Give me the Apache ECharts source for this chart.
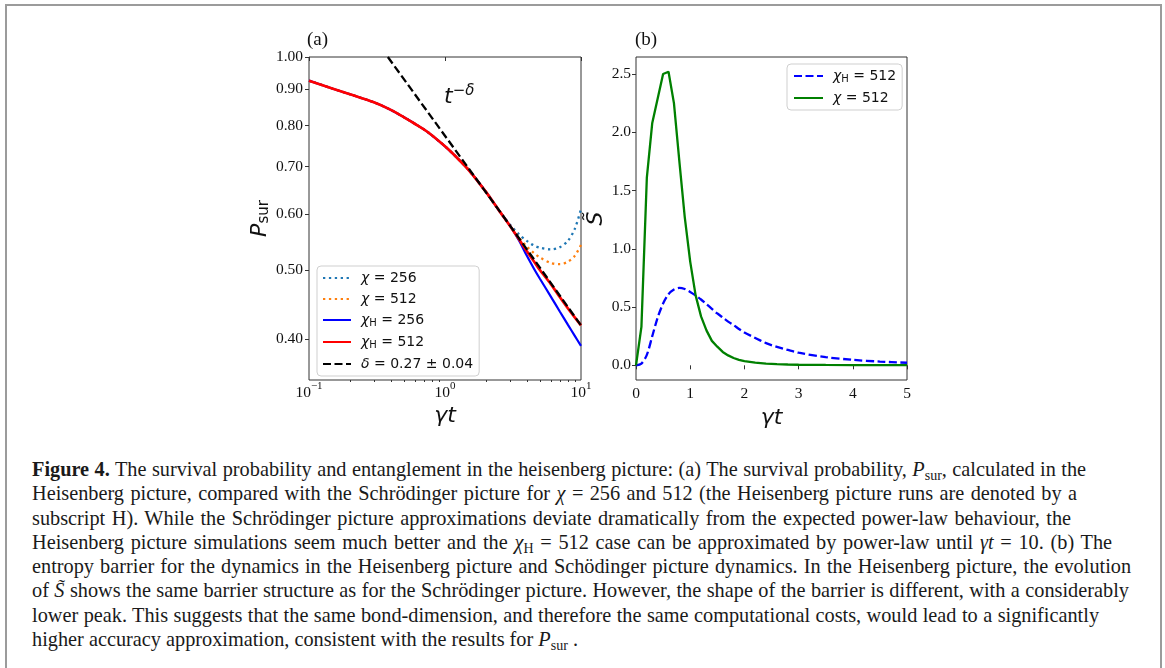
<!DOCTYPE html>
<html><head><meta charset="utf-8">
<script src="https://cdn.jsdelivr.net/npm/echarts@6.0.0/dist/echarts.min.js"></script>
<style>
html,body{margin:0;padding:0;background:#fff;}
body{width:1165px;height:668px;overflow:hidden;position:relative;}
#frame{position:absolute;left:5px;top:4px;width:1153px;height:690px;border:2px solid #9b9b9b;border-bottom:none;}
#chart{position:absolute;left:0;top:0;width:1165px;height:440px;}
#cap{position:absolute;left:32px;top:457px;font-family:'Liberation Serif','Times New Roman',serif;font-size:20.3px;line-height:24.3px;color:#1a1a1a;}
#cap .ln{white-space:nowrap;height:24.3px;}
#cap .ln span{white-space:nowrap;}
#cap sub{font-size:14px;vertical-align:baseline;position:relative;top:4px;line-height:0;}
</style></head><body>
<div id="frame"></div>
<div id="chart"></div>
<div id="cap">
<div class="ln"><span><b>Figure 4.</b> The survival probability and entanglement in the heisenberg picture: (a) The survival probability, <i>P</i><sub>sur</sub>, calculated in the</span></div>
<div class="ln"><span>Heisenberg picture, compared with the Schrödinger picture for <i>χ</i> = 256 and 512 (the Heisenberg picture runs are denoted by a</span></div>
<div class="ln"><span>subscript H). While the Schrödinger picture approximations deviate dramatically from the expected power-law behaviour, the</span></div>
<div class="ln"><span>Heisenberg picture simulations seem much better and the <i>χ</i><sub>H</sub> = 512 case can be approximated by power-law until <i>γt</i> = 10. (b) The</span></div>
<div class="ln"><span>entropy barrier for the dynamics in the Heisenberg picture and Schödinger picture dynamics. In the Heisenberg picture, the evolution</span></div>
<div class="ln"><span>of <i>S̃</i> shows the same barrier structure as for the Schrödinger picture. However, the shape of the barrier is different, with a considerably</span></div>
<div class="ln"><span>lower peak. This suggests that the same bond-dimension, and therefore the same computational costs, would lead to a significantly</span></div>
<div class="ln"><span>higher accuracy approximation, consistent with the results for <i>P</i><sub>sur</sub> .</span></div>
</div>
<script>
// ---------- data: panel (a) survival probability ----------
const xA      = [0.1, 0.15, 0.2, 0.3, 0.4, 0.5, 0.6, 0.75, 1.0, 1.25, 1.5, 2.0, 2.5, 3.0, 3.5, 4.0, 4.5, 5.0, 6.0, 7.0, 8.0, 9.0, 10.0];
const pChi256 = [0.926, 0.902, 0.886, 0.863, 0.842, 0.822, 0.805, 0.783, 0.748, 0.718, 0.692, 0.645, 0.607, 0.580, 0.562, 0.550, 0.542, 0.538, 0.535, 0.539, 0.550, 0.572, 0.610];
const pChi512 = [0.926, 0.902, 0.886, 0.863, 0.842, 0.822, 0.805, 0.783, 0.748, 0.718, 0.692, 0.645, 0.607, 0.578, 0.556, 0.540, 0.529, 0.521, 0.512, 0.510, 0.514, 0.524, 0.543];
const pH256   = [0.926, 0.902, 0.886, 0.863, 0.842, 0.822, 0.805, 0.783, 0.748, 0.718, 0.692, 0.645, 0.607, 0.578, 0.551, 0.524, 0.503, 0.486, 0.459, 0.437, 0.419, 0.404, 0.391];
const pH512   = [0.926, 0.902, 0.886, 0.863, 0.842, 0.822, 0.805, 0.783, 0.748, 0.718, 0.692, 0.645, 0.607, 0.578, 0.553, 0.532, 0.515, 0.500, 0.478, 0.458, 0.442, 0.429, 0.418];
const xDelta  = [0.38, 2.7, 10.0];
const pDelta  = [1.00, 0.595, 0.418];
const yTicksA = [0.4, 0.5, 0.6, 0.7, 0.8, 0.9, 1.0];
const xMinorA = [0.2, 0.3, 0.4, 0.5, 0.6, 0.7, 0.8, 0.9, 2, 3, 4, 5, 6, 7, 8, 9];
// ---------- data: panel (b) entropy ----------
const xS      = [0, 0.1, 0.2, 0.3, 0.4, 0.5, 0.6, 0.7, 0.8, 0.9, 1.0, 1.1, 1.2, 1.3, 1.4, 1.5, 1.6, 1.7, 1.8, 1.9, 2.0, 2.2, 2.4, 2.6, 2.8, 3.0, 3.5, 4.0, 4.5, 5.0];
const sH512   = [0, 0.015, 0.09, 0.25, 0.41, 0.53, 0.61, 0.65, 0.665, 0.655, 0.63, 0.60, 0.565, 0.525, 0.485, 0.445, 0.41, 0.375, 0.345, 0.312, 0.282, 0.235, 0.19, 0.158, 0.132, 0.108, 0.07, 0.047, 0.032, 0.022];
const sChi512 = [0, 0.33, 1.61, 2.08, 2.29, 2.50, 2.52, 2.25, 1.75, 1.27, 0.89, 0.60, 0.42, 0.30, 0.21, 0.16, 0.115, 0.085, 0.063, 0.047, 0.036, 0.023, 0.015, 0.010, 0.007, 0.005, 0.003, 0.002, 0.001, 0.001];
const yTicksB = [0, 0.5, 1.0, 1.5, 2.0, 2.5];
const xTicksB = [0, 1, 2, 3, 4, 5];

const zip = (xs, ys) => xs.map((x, i) => [x, ys[i]]);
const lg = Math.log10;
const SERIF = 'Liberation Serif';
const SANS = 'DejaVu Sans';
const INK = '#111';
const AX = '#333';

const legendNames = {
  c256: '{i|χ} = 256', c512: '{i|χ} = 512',
  h256: '{i|χ}{h|H} = 256', h512: '{i|χ}{h|H} = 512',
  delta: '{i|δ} = 0.27 ± 0.04',
  bH512: '{i|χ}{h|H} = 512', bChi512: '{i|χ} = 512'
};
const legRich = {
  i: {fontFamily: SANS, fontStyle: 'italic', fontSize: 14, color: INK},
  h: {fontFamily: SANS, fontSize: 10, color: INK, padding: [6, 0, 0, 0]}
};
const legendBase = {
  orient: 'vertical', itemHeight: 14, itemGap: 7, selectedMode: false,
  itemStyle: {opacity: 0, borderWidth: 0},
  backgroundColor: 'rgba(255,255,255,0.85)', borderColor: '#cfcfcf', borderWidth: 1, borderRadius: 4,
  textStyle: {fontFamily: SANS, fontSize: 14, color: INK, padding: [0, 0, 0, 5], rich: legRich},
  formatter: n => legendNames[n]
};
const tickLbl = {fontFamily: SERIF, fontSize: 15.5, color: INK};
const nameSt = {fontFamily: SANS, fontStyle: 'italic', fontSize: 22, color: INK};
const line = (name, xs, ys, color, width, type, xi, yi, z, smooth) => ({
  type: 'line', name, data: zip(xs, ys), xAxisIndex: xi, yAxisIndex: yi,
  symbol: 'none', showSymbol: false, smooth: smooth, z: z, animation: false,
  lineStyle: {color, width, type, cap: 'butt'}, itemStyle: {color}
});

const chart = echarts.init(document.getElementById('chart'));
chart.setOption({
  animation: false,
  title: [
    {text: '(a)', left: 307, top: 31, padding: 0, textStyle: {fontFamily: SERIF, fontSize: 19, fontWeight: 'normal', color: INK}},
    {text: '(b)', left: 635, top: 31, padding: 0, textStyle: {fontFamily: SERIF, fontSize: 19, fontWeight: 'normal', color: INK}}
  ],
  grid: [
    {left: 309, top: 57, width: 272, height: 323, show: true, borderColor: AX, borderWidth: 1, backgroundColor: 'transparent', containLabel: false, outerBoundsMode: 'none'},
    {left: 636, top: 57, width: 271, height: 323, show: true, borderColor: AX, borderWidth: 1, backgroundColor: 'transparent', containLabel: false, outerBoundsMode: 'none'}
  ],
  xAxis: [
    {gridIndex: 0, type: 'log', logBase: 10, min: 0.1, max: 10, position: 'bottom',
     name: 'γt', nameLocation: 'middle', nameGap: 21, nameTextStyle: nameSt,
     axisLine: {show: false}, splitLine: {show: false},
     axisTick: {show: true, length: 4, lineStyle: {color: AX}},
     axisLabel: {margin: 1, formatter: v => { const e = Math.round(lg(v)); return '{b|10}{s|' + (e < 0 ? '\u2212' + (-e) : String(e)) + '}'; },
       rich: {b: {fontFamily: SERIF, fontSize: 15.5, color: INK}, s: {fontFamily: SERIF, fontSize: 11, color: INK, padding: [0, 0, 12, 0]}}}},
    {gridIndex: 0, type: 'value', min: -1, max: 1, position: 'bottom',
     axisLine: {show: false}, splitLine: {show: false}, axisLabel: {show: false},
     axisTick: {show: true, length: 2, lineStyle: {color: AX}, customValues: xMinorA.map(lg)}},
    {gridIndex: 1, type: 'value', min: 0, max: 5, position: 'bottom',
     name: 'γt', nameLocation: 'middle', nameGap: 21, nameTextStyle: nameSt,
     axisLine: {show: false}, splitLine: {show: false},
     axisTick: {show: true, length: 4, lineStyle: {color: AX}, customValues: xTicksB},
     axisLabel: Object.assign({margin: 6, customValues: xTicksB, formatter: v => String(v)}, tickLbl)}
  ],
  yAxis: [
    {gridIndex: 0, type: 'log', logBase: 10, min: 0.35, max: 1.0,
     axisLine: {show: false}, axisTick: {show: false}, axisLabel: {show: false}, splitLine: {show: false}},
    {gridIndex: 0, type: 'value', position: 'left', min: lg(0.35), max: 0,
     name: '{p|P}{s|sur}', nameLocation: 'middle', nameGap: 33,
     nameTextStyle: {rich: {p: {fontFamily: SANS, fontStyle: 'italic', fontSize: 22, color: INK}, s: {fontFamily: SANS, fontSize: 15, color: INK, padding: [9, 0, 0, 0]}}},
     axisLine: {show: false}, splitLine: {show: false},
     axisTick: {show: true, length: 4, lineStyle: {color: AX}, customValues: yTicksA.map(lg)},
     axisLabel: Object.assign({margin: 6, customValues: yTicksA.map(lg), formatter: v => Math.pow(10, v).toFixed(2)}, tickLbl)},
    {gridIndex: 1, type: 'value', min: -0.126, max: 2.646,
     name: 'S\u0303', nameLocation: 'middle', nameGap: 20, nameTextStyle: nameSt,
     axisLine: {show: false}, splitLine: {show: false},
     axisTick: {show: true, length: 4, lineStyle: {color: AX}, customValues: yTicksB},
     axisLabel: Object.assign({margin: 5, customValues: yTicksB, formatter: v => v.toFixed(1)}, tickLbl)}
  ],
  legend: [
    Object.assign({}, legendBase, {data: ['c256', 'c512', 'h256', 'h512', 'delta'], left: 317, top: 266, padding: [5, 6, 5, 5], itemWidth: 28}),
    Object.assign({}, legendBase, {data: ['bH512', 'bChi512'], left: 787, top: 64, padding: [5, 6, 5, 6], itemWidth: 29})
  ],
  graphic: [
    {type: 'text', left: 444, top: 84, z: 10, style: {
      text: '{t|t}{m|\u2212}{d|δ}',
      rich: {t: {fontFamily: SANS, fontStyle: 'italic', fontSize: 22, fill: INK},
             m: {fontFamily: SANS, fontSize: 15, fill: INK, padding: [0, 0, 12, 0]},
             d: {fontFamily: SANS, fontStyle: 'italic', fontSize: 15, fill: INK, padding: [0, 0, 12, 0]}}}}
  ],
  series: [
    line('c256', xA, pChi256, '#1f77b4', 2.3, [2.3, 3.6], 0, 0, 2, 0.3),
    line('c512', xA, pChi512, '#ff7f0e', 2.3, [2.3, 3.6], 0, 0, 3, 0.3),
    line('h256', xA, pH256, '#0000ff', 2.2, 'solid', 0, 0, 4, 0.3),
    line('h512', xA, pH512, '#ff0000', 2.7, 'solid', 0, 0, 5, 0.3),
    line('delta', xDelta, pDelta, '#000000', 2.3, [8, 3.5], 0, 0, 6, false),
    line('bH512', xS, sH512, '#0000ff', 2.3, [8, 3.5], 2, 2, 3, 0.3),
    line('bChi512', xS, sChi512, '#008000', 2.3, 'solid', 2, 2, 4, false)
  ]
});

// caption line justification to match reference line ends
const capEnds = [1086, 1077, 1071, 1112, 1131, 1129, 1099, null];
document.querySelectorAll('#cap .ln span').forEach((sp, i) => {
  const end = capEnds[i];
  if (!end) return;
  const w = sp.getBoundingClientRect().width;
  const spaces = (sp.textContent.match(/ /g) || []).length;
  const target = end - 32;
  if (spaces > 0) sp.style.wordSpacing = ((target - w) / spaces).toFixed(2) + 'px';
});
</script>
</body></html>
